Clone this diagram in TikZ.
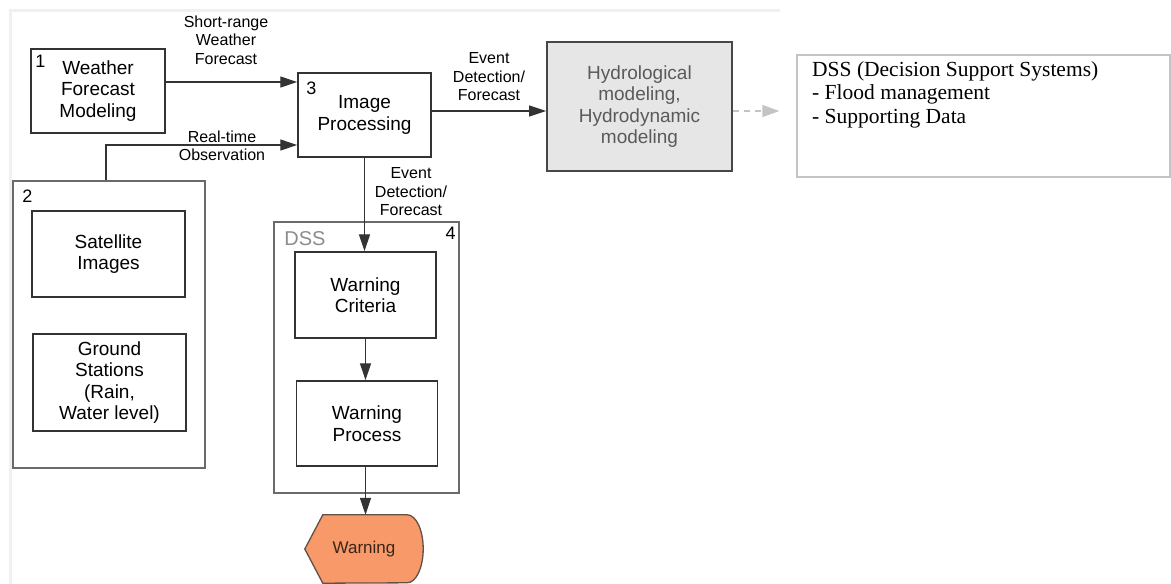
\documentclass[tikz,border=0pt]{standalone}
\usepackage{fontspec}
\setmainfont{Liberation Sans}
\newfontfamily\dssserif{Liberation Serif}
\usetikzlibrary{arrows.meta,positioning,backgrounds}
\definecolor{ink}{HTML}{333333}
\definecolor{framegray}{HTML}{6A6A6A}
\definecolor{hydrofill}{HTML}{E6E6E6}
\definecolor{hydrotext}{HTML}{5A5A5A}
\definecolor{dssgray}{HTML}{8C8C8C}
\definecolor{paleline}{HTML}{C4C4C4}
\definecolor{warnorange}{HTML}{F8996A}
\definecolor{warntext}{HTML}{3A2418}
\definecolor{pageedge}{HTML}{EEF0F5}

\begin{document}
\begin{tikzpicture}[x=1pt,y=-1pt,
        box/.style={draw=ink,line width=1.5pt,align=center,inner sep=0pt,
          font=\fontsize{19}{21.5}\selectfont},
        group/.style={draw=framegray,line width=1.5pt,inner sep=0pt},
        num/.style={anchor=base west,inner sep=0pt,font=\fontsize{18}{20}\selectfont},
        lbl/.style={align=center,inner sep=0pt,font=\fontsize{16}{18.5}\selectfont},
        arr/.style={-{Triangle[length=17pt,width=11pt]},line width=1.3pt,draw=ink},
        fadedarr/.style={-{Triangle[length=17pt,width=12pt]},line width=1.3pt,
          draw=paleline,dash pattern=on 6pt off 5pt}
      ]
        \useasboundingbox (0,0) rectangle (1171,584);
        \draw[pageedge,line width=3pt] (10,584) -- (10,10) -- (780,10);

        % left column
        \node[box,minimum width=134pt,minimum height=84pt] (wfm) at (98,91) {Weather\\Forecast\\Modeling};
        \node[num] at ([xshift=5pt,yshift=-19pt]wfm.north west) {1};
        \node[group,minimum width=192pt,minimum height=287pt] (obs) at (109,324.5) {};
        \node[num] at ([xshift=10pt,yshift=-22pt]obs.north west) {2};
        \node[box,minimum width=153pt,minimum height=86pt] (sat) at (108.5,254) {Satellite\\Images};
        \node[box,minimum width=153pt,minimum height=97pt] (gnd) at (109.5,382.5) {Ground\\Stations\\(Rain,\\Water level)};

        % processing and modeling
        \node[box,minimum width=133pt,minimum height=84pt] (imgp) at (364.5,115) {Image\\Processing};
        \node[num] at ([xshift=9pt,yshift=-22pt]imgp.north west) {3};
        \node[box,draw=ink!90,line width=1.8pt,fill=hydrofill,text=hydrotext,
          minimum width=185pt,minimum height=129pt] (hydro) at (639.5,106.5)
          {Hydrological\\modeling,\\Hydrodynamic\\modeling};
        \node[draw=paleline,line width=1.3pt,minimum width=373pt,minimum height=122pt] (dssbox) at (983.5,116) {};
        \node[anchor=north west,inner sep=0pt,align=left,font=\dssserif\fontsize{21.5}{23.5}\selectfont]
          (dsstxt) at (812,61) {DSS (Decision Support Systems)\\- Flood management\\- Supporting Data};

        % warning chain
        \node[group,minimum width=185pt,minimum height=271pt] (dss) at (366.5,357.5) {};
        \node[num,text=dssgray,font=\fontsize{20}{22}\selectfont] at ([xshift=11pt,yshift=-24pt]dss.north west) {DSS};
        \node[num,anchor=base east] at ([xshift=-4pt,yshift=-18pt]dss.north east) {4};
        \node[box,minimum width=141pt,minimum height=86pt] (crit) at (365.5,295) {Warning\\Criteria};
        \node[box,minimum width=141pt,minimum height=85pt] (proc) at (367,423.5) {Warning\\Process};
        \node[inner sep=0pt,text=warntext,font=\fontsize{17}{20}\selectfont,
          minimum width=118pt,minimum height=68pt] (warn) at (364,549) {Warning};
        \begin{scope}[on background layer]
          \draw[draw=warntext!80,line width=1.3pt,fill=warnorange]
            (warn.west) -- ([xshift=18pt]warn.north west) -- ([xshift=-16pt]warn.north east)
            arc[start angle=90,end angle=-90,x radius=16pt,y radius=34pt]
            -- ([xshift=18pt]warn.south west) -- cycle;
        \end{scope}

        % connectors
        \coordinate (srtail) at ([yshift=9pt]wfm.east);
        \draw[arr] (srtail) -- (srtail -| imgp.west);
        \node[lbl] (srlbl) at (226,40) {Short-range\\Weather\\Forecast};
        \coordinate (rttail) at ([xshift=-3pt]obs.north);
        \draw[arr] (rttail) |- ([yshift=-30pt]imgp.west);
        \node[lbl] (rtlbl) at (222,146) {Real-time\\Observation};
        \coordinate (evtail) at ([yshift=4pt]imgp.east);
        \draw[arr] (evtail) -- (evtail -| hydro.west);
        \node[lbl] (evlbl) at (489,77) {Event\\Detection/\\Forecast};
        \coordinate (hytail) at ([yshift=-4.5pt]hydro.east);
        \coordinate (dsshead) at ([xshift=-17pt]hytail -| dssbox.west);
        \draw[fadedarr] (hytail) -- (dsshead);
        \draw[arr] (imgp.south) -- (imgp.south |- crit.north);
        \node[lbl] (evdownlbl) at (411,192) {Event\\Detection/\\Forecast};
        \draw[arr] (crit.south) -- (crit.south |- proc.north);
        \draw[arr] (crit.south |- proc.south) -- (crit.south |- warn.north);
      \end{tikzpicture}
\end{document}
